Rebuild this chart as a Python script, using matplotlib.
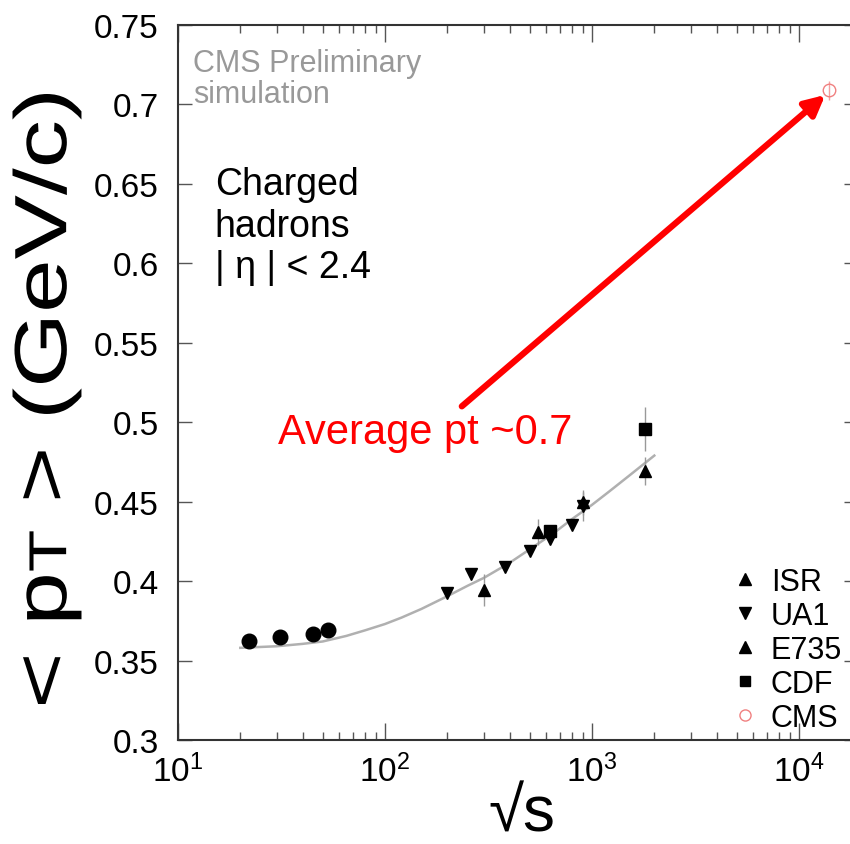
import numpy as np
import matplotlib
matplotlib.use('Agg')
import matplotlib.pyplot as plt
from matplotlib.lines import Line2D
from matplotlib.ticker import LogLocator, MultipleLocator
from matplotlib.textpath import TextPath, text_to_path
from matplotlib.patches import PathPatch
from matplotlib.path import Path
from matplotlib.font_manager import FontProperties
from matplotlib.transforms import Affine2D, IdentityTransform

plt.rcParams['font.family'] = ['Liberation Sans', 'DejaVu Sans']
plt.rcParams['mathtext.fontset'] = 'custom'
plt.rcParams['mathtext.rm'] = 'Liberation Sans'
plt.rcParams['mathtext.it'] = 'Liberation Sans:italic'

# ISR (circles in the plot)
isr_x = [22, 31, 45, 53]
isr_y = [0.362, 0.365, 0.367, 0.369]

# UA1
ua1_x = [200, 260, 380, 500, 630, 800, 900]
ua1_y = [0.3925, 0.4045, 0.4089, 0.4189, 0.4265, 0.4353, 0.4470]

# E735
e735_x = [300, 546, 900, 1800]
e735_y = [0.3944, 0.4309, 0.4495, 0.4693]
e735_err = [0.010, 0.008, 0.008, 0.009]

# CDF
cdf_x = [630, 1800]
cdf_y = [0.4315, 0.4957]
cdf_err = [0.004, 0.014]

# CMS simulation
cms_x = [14000]
cms_y = [0.709]

# fit curve
fit_x = [20, 30, 40, 50, 65, 80, 100, 120, 150, 200, 250, 300, 400, 500, 650, 800, 1000, 1200, 1500, 2000]
fit_y = [0.358, 0.359, 0.3605, 0.362, 0.3655, 0.369, 0.373, 0.377, 0.3825, 0.3905, 0.397, 0.402,
         0.4115, 0.420, 0.430, 0.439, 0.448, 0.456, 0.466, 0.479]

W, H = 850, 845
fig = plt.figure(figsize=(8.5, 8.45), dpi=100)
ax = fig.add_axes([178/W, 104/H, 680/W, 715/H])

ax.plot(fit_x, fit_y, color='#b0b0b0', lw=1.8, zorder=1)

ax.errorbar(e735_x, e735_y, yerr=e735_err, fmt='none', ecolor='#999999', elinewidth=1, zorder=2)
ax.errorbar(cdf_x, cdf_y, yerr=cdf_err, fmt='none', ecolor='#999999', elinewidth=1, zorder=2)
ax.errorbar(ua1_x[-1:], ua1_y[-1:], yerr=[0.009], fmt='none', ecolor='#999999', elinewidth=1, zorder=2)
ax.errorbar(cms_x, cms_y, yerr=[0.006], fmt='none', ecolor='#f4a0a0', elinewidth=1, zorder=2)

ax.plot(isr_x, isr_y, 'o', color='black', ms=10.5, ls='none', zorder=3)
ax.plot(ua1_x, ua1_y, 'v', color='black', ms=9, ls='none', zorder=3)
ax.plot(e735_x, e735_y, '^', color='black', ms=9, ls='none', zorder=3)
ax.plot(cdf_x, cdf_y, 's', color='black', ms=9, ls='none', zorder=3)
ax.plot(cms_x, cms_y, 'o', mfc='none', mec='#f08080', mew=1, ms=9, ls='none', zorder=3)

ax.set_xscale('log')
ax.set_xlim(10, 10**(1 + 680/207))
ax.set_ylim(0.3, 0.75)
ax.yaxis.set_major_locator(MultipleLocator(0.05))
ax.set_yticklabels([f'{v:g}' for v in ax.get_yticks()])
ax.xaxis.set_major_locator(LogLocator(base=10, numticks=10))
ax.xaxis.set_minor_locator(LogLocator(base=10, subs=np.arange(2, 10), numticks=10))

for s in ax.spines.values():
    s.set_linewidth(1.5)
    s.set_color('#333333')
ax.tick_params(which='both', direction='in', top=True, right=True, color='#555555', width=1)
ax.tick_params(which='major', length=12, labelsize=24, pad=10)
ax.tick_params(which='minor', length=6)
ax.tick_params(axis='y', which='major', length=10, pad=14)

# annotations
ax.text(0.022, 0.9357, 'CMS Preliminary', transform=ax.transAxes, fontsize=22, color='#999999', va='baseline')
ax.text(0.022, 0.892, 'simulation', transform=ax.transAxes, fontsize=22, color='#999999', va='baseline')
for i, line in enumerate(['Charged', 'hadrons', '| η | < 2.4']):
    ax.text(0.054, 0.763 - i * 0.0575, line, transform=ax.transAxes, fontsize=27, color='black', va='baseline')

ax.text(0.147, 0.4154, 'Average pt ~0.7', transform=ax.transAxes, fontsize=30, color='red', va='baseline')
ax.annotate('', xy=(13400, 0.706), xytext=(235, 0.510),
            arrowprops=dict(arrowstyle='-|>', color='red', lw=4.5, mutation_scale=30, shrinkA=0, shrinkB=0))

handles = [Line2D([], [], marker='^', color='black', ls='none', ms=8),
           Line2D([], [], marker='v', color='black', ls='none', ms=8),
           Line2D([], [], marker='^', color='black', ls='none', ms=8),
           Line2D([], [], marker='s', color='black', ls='none', ms=7),
           Line2D([], [], marker='o', mfc='none', mec='#f08080', ls='none', ms=8)]
leg = ax.legend(handles, ['ISR', 'UA1', 'E735', 'CDF', 'CMS'], loc='lower right',
                bbox_to_anchor=(842/W, 111/H), bbox_transform=fig.transFigure,
                fontsize=22, frameon=False, handlelength=1.0, handletextpad=0.35,
                labelspacing=0.13, borderaxespad=0, borderpad=0)

# y label: "< pT > (GeV/c)" with a small-cap T, stretched along its length as in the original
S = 74
fp = FontProperties(family='Liberation Sans', size=S)
fp_small = FontProperties(family='Liberation Sans', size=S * 0.72)
parts = [('< p', fp), ('T', fp_small), (' > (GeV/c)', fp)]
paths, x0 = [], 0.0
for txt, prop in parts:
    p = TextPath((x0, 0), txt, prop=prop)
    paths.append(p)
    x0 += text_to_path.get_text_width_height_descent(txt, prop, ismath=False)[0]
ylab = Path.make_compound_path(*paths)
bb = ylab.get_extents()
stretch = 610 / bb.width
tr = (Affine2D().translate(-(bb.x0 + bb.x1) / 2, -(bb.y0 + bb.y1) / 2)
      .scale(stretch, 1).rotate_deg(90).translate(47, H - 400))
fig.add_artist(PathPatch(tr.transform_path(ylab), facecolor='black', lw=0,
                         transform=IdentityTransform()))

fig.text(522/W, 0.0, '√s', fontsize=46, ha='center', va='bottom')

fig.savefig('out.png', dpi=100)
